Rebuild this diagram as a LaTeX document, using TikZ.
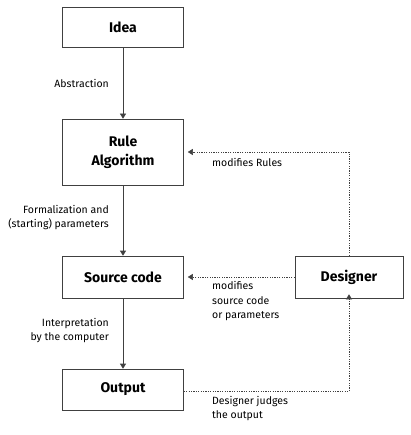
\documentclass[tikz,border=0pt]{standalone}
\usepackage{fontspec}
\setmainfont{Fira Sans}
\usetikzlibrary{arrows.meta}
\begin{document}
\begin{tikzpicture}[x=1pt,y=-1pt,
  box/.style={draw=black!75,line width=0.6pt,minimum width=121pt,inner sep=0pt,font=\fontsize{14}{16}\selectfont\bfseries,align=center},
  lbl/.style={font=\fontsize{10.5}{14.5}\selectfont,inner sep=0pt},
  flow/.style={draw=black!75,line width=0.6pt,-{Triangle[width=6pt,length=5pt]}},
  fb/.style={draw=black!75,line width=0.5pt,dash pattern=on 1.2pt off 1.2pt,-{Triangle[width=6pt,length=5pt]}}]
\useasboundingbox (0,0) rectangle (410,435);
\node[box,minimum height=40pt] (idea) at (123,27) {Idea};
\node[box,minimum height=66pt] (rule) at (123,152) {Rule\\[3pt]Algorithm};
\node[box,minimum height=42pt] (src) at (123,277) {Source code};
\node[box,minimum height=41pt] (out) at (123,389.5) {Output};
\node[box,minimum height=42pt,minimum width=108pt] (des) at (349,277) {Designer};
\coordinate (c1) at (349,152);
\coordinate (c2) at (349,391);
\draw[flow] (idea) -- (rule);
\draw[flow] (rule) -- (src);
\draw[flow] (src) -- (out);
\draw[fb,-] (des.north) -- (c1);
\draw[fb] (c1) -- ([xshift=4pt]rule.east|-c1);
\draw[fb] (des.west) -- ([xshift=4pt]src.east);
\draw[fb,-] (out.east|-c2) -- (c2);
\draw[fb] (c2) -- ([yshift=4pt]des.south);
\node[lbl,anchor=east] (l1) at (109,83) {Abstraction};
\node[lbl,anchor=east,align=right] (l2) at (109,217.5) {Formalization and\\(starting) parameters};
\node[lbl,anchor=east,align=right] (l3) at (109,330.5) {Interpretation\\by the computer};
\node[lbl,anchor=west] (l4) at (212,162) {modifies Rules};
\node[lbl,anchor=west,align=left] (l5) at (212,301.5) {modifies\\source code\\or parameters};
\node[lbl,anchor=west,align=left] (l6) at (212,408.5) {Designer judges\\the output};
\end{tikzpicture}
\end{document}
